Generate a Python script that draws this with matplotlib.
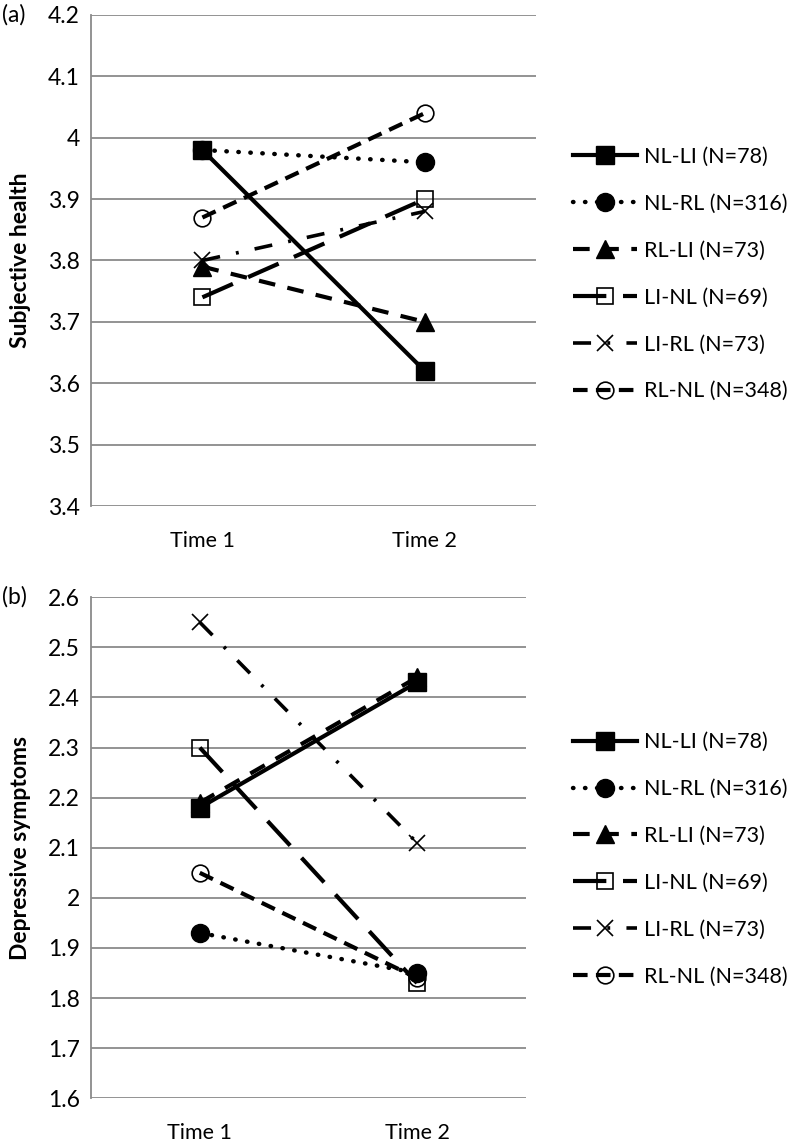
import matplotlib
matplotlib.use('Agg')
import matplotlib.pyplot as plt
from matplotlib.ticker import FuncFormatter

plt.rcParams['font.family'] = ['Lato', 'DejaVu Sans']

# --------DATA--------
times = ['Time 1', 'Time 2']
groups = ['NL-LI (N=78)', 'NL-RL (N=316)', 'RL-LI (N=73)',
          'LI-NL (N=69)', 'LI-RL (N=73)', 'RL-NL (N=348)']

# (a) Subjective health
health_nl_li = [3.98, 3.62]
health_nl_rl = [3.98, 3.96]
health_rl_li = [3.79, 3.70]
health_li_nl = [3.74, 3.90]
health_li_rl = [3.80, 3.88]
health_rl_nl = [3.87, 4.04]

# (b) Depressive symptoms
dep_nl_li = [2.18, 2.43]
dep_nl_rl = [1.93, 1.85]
dep_rl_li = [2.19, 2.44]
dep_li_nl = [2.30, 1.83]
dep_li_rl = [2.55, 2.11]
dep_rl_nl = [2.05, 1.84]

# --------STYLES (per group)--------
styles = [
    dict(ls='-', lw=3, marker='s', ms=13, mfc='black', mec='black'),
    dict(ls=(0, (0.1, 2.6)), lw=3.2, marker='o', ms=13, mfc='black', mec='black', dash_capstyle='round'),
    dict(ls=(0, (4, 3)), lw=3, marker='^', ms=13, mfc='black', mec='black'),
    dict(ls=(0, (8, 4)), lw=3, marker='s', ms=12, mfc='none', mec='black', mew=1.2),
    dict(ls=(0, (5, 4.5, 0.8, 4.5)), lw=2.6, marker='x', ms=12, mfc='none', mec='black', mew=1.2),
    dict(ls=(0, (3.5, 2)), lw=3, marker='o', ms=12, mfc='none', mec='black', mew=1.2),
]

fs = 15.5


def draw_panel(ax, series, ylim, ylabel):
    x = [0, 1]
    for vals, lab, st in zip(series, groups, styles):
        ax.plot(x, vals, color='black', label=lab, zorder=3, **st)
    ax.set_xlim(-0.5, 1.5)
    n = int(round((ylim[1] - ylim[0]) / 0.1)) + 1
    yt = [round(ylim[0] + 0.1 * i, 1) for i in range(n)]
    ax.set_yticks(yt)
    ax.set_ylim(*ylim)
    ax.set_xticks(x)
    ax.set_xticklabels(times, fontsize=fs)
    ax.yaxis.set_major_formatter(FuncFormatter(lambda v, p: '%g' % round(v, 1)))
    ax.tick_params(length=0, labelsize=16.5, pad=8)
    ax.tick_params(axis='x', labelsize=fs, pad=18)
    ax.grid(axis='y', color='#8a8a8a', linewidth=1.3, zorder=0)
    for s in ['top', 'right', 'bottom']:
        ax.spines[s].set_visible(False)
    ax.spines['left'].set_color('#8a8a8a')
    ax.spines['left'].set_linewidth(1.3)
    ax.set_ylabel(ylabel, fontsize=16.5, fontweight='bold', labelpad=12)


fig = plt.figure(figsize=(8, 11.42), dpi=100)

ax1 = fig.add_axes([0.114, 0.5569, 0.556, 0.430])
draw_panel(ax1, [health_nl_li, health_nl_rl, health_rl_li, health_li_nl, health_li_rl, health_rl_nl],
           (3.4, 4.2), 'Subjective health')
ax1.legend(loc='center left', bbox_to_anchor=(0.716, 0.760), bbox_transform=fig.transFigure,
           frameon=False, fontsize=fs, handlelength=3.0, handletextpad=0.3, labelspacing=1.25,
           borderpad=0, borderaxespad=0)

ax2 = fig.add_axes([0.114, 0.0383, 0.543, 0.4387])
draw_panel(ax2, [dep_nl_li, dep_nl_rl, dep_rl_li, dep_li_nl, dep_li_rl, dep_rl_nl],
           (1.6, 2.6), 'Depressive symptoms')
ax2.legend(loc='center left', bbox_to_anchor=(0.716, 0.2474), bbox_transform=fig.transFigure,
           frameon=False, fontsize=fs, handlelength=3.0, handletextpad=0.3, labelspacing=1.25,
           borderpad=0, borderaxespad=0)

fig.text(0.003, 1 - 15 / 1142, '(a)', fontsize=16.5, va='center', ha='left')
fig.text(0.003, 1 - 597 / 1142, '(b)', fontsize=16.5, va='center', ha='left')

fig.savefig('out.png', dpi=100)
